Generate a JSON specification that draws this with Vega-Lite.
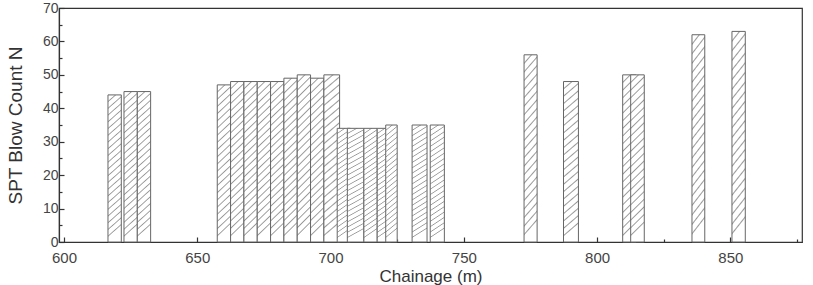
{
  "$schema": "https://vega.github.io/schema/vega-lite/v6.json",
  "autosize": "none",
  "width": 743,
  "height": 234,
  "padding": {"left": 59, "top": 8, "right": 11, "bottom": 43},
  "background": "white",
  "config": {
    "view": {"stroke": "#333", "strokeWidth": 1.2},
    "font": "Liberation Sans",
    "axis": {
      "domainColor": "#333",
      "domainWidth": 1.2,
      "tickColor": "#333",
      "tickWidth": 1.2,
      "labelColor": "#444",
      "titleColor": "#333",
      "labelFont": "Liberation Sans",
      "titleFont": "Liberation Sans",
      "labelFontSize": 15,
      "titleFontSize": 17,
      "titleFontWeight": "normal",
      "grid": false
    }
  },
  "data": {
    "values": [
      {"from": 616.5, "to": 621.5, "N": 44},
      {"from": 622.5, "to": 627.5, "N": 45},
      {"from": 627.5, "to": 632.5, "N": 45},
      {"from": 657.5, "to": 662.5, "N": 47},
      {"from": 662.5, "to": 667.5, "N": 48},
      {"from": 667.5, "to": 672.5, "N": 48},
      {"from": 672.5, "to": 677.5, "N": 48},
      {"from": 677.5, "to": 682.5, "N": 48},
      {"from": 682.5, "to": 687.5, "N": 49},
      {"from": 687.5, "to": 692.5, "N": 50},
      {"from": 692.5, "to": 697.5, "N": 49},
      {"from": 697.5, "to": 703.4, "N": 50},
      {"from": 702.5, "to": 707.4, "N": 34},
      {"from": 706.3, "to": 712.5, "N": 34},
      {"from": 712.5, "to": 717.5, "N": 34},
      {"from": 717.5, "to": 722.5, "N": 34},
      {"from": 720.7, "to": 725.0, "N": 35},
      {"from": 730.6, "to": 736.2, "N": 35},
      {"from": 737.4, "to": 742.7, "N": 35},
      {"from": 772.6, "to": 777.5, "N": 56},
      {"from": 787.4, "to": 793.0, "N": 48},
      {"from": 809.6, "to": 814.6, "N": 50},
      {"from": 812.6, "to": 817.7, "N": 50},
      {"from": 835.6, "to": 840.4, "N": 62},
      {"from": 850.6, "to": 855.6, "N": 63}
    ]
  },
  "mark": {
    "type": "bar",
    "orient": "vertical",
    "stroke": "#666",
    "strokeWidth": 1,
    "fill": {
      "gradient": "linear",
      "x1": 0, "y1": 0, "x2": 0.08, "y2": 1,
      "stops": [
        {"offset": 0.0, "color": "#fff"}, {"offset": 0.0375, "color": "#fff"},
        {"offset": 0.0455, "color": "#999"}, {"offset": 0.0535, "color": "#fff"}, {"offset": 0.0829, "color": "#fff"},
        {"offset": 0.0909, "color": "#999"}, {"offset": 0.0989, "color": "#fff"}, {"offset": 0.1284, "color": "#fff"},
        {"offset": 0.1364, "color": "#999"}, {"offset": 0.1444, "color": "#fff"}, {"offset": 0.1738, "color": "#fff"},
        {"offset": 0.1818, "color": "#999"}, {"offset": 0.1898, "color": "#fff"}, {"offset": 0.2193, "color": "#fff"},
        {"offset": 0.2273, "color": "#999"}, {"offset": 0.2353, "color": "#fff"}, {"offset": 0.2647, "color": "#fff"},
        {"offset": 0.2727, "color": "#999"}, {"offset": 0.2807, "color": "#fff"}, {"offset": 0.3102, "color": "#fff"},
        {"offset": 0.3182, "color": "#999"}, {"offset": 0.3262, "color": "#fff"}, {"offset": 0.3556, "color": "#fff"},
        {"offset": 0.3636, "color": "#999"}, {"offset": 0.3716, "color": "#fff"}, {"offset": 0.4011, "color": "#fff"},
        {"offset": 0.4091, "color": "#999"}, {"offset": 0.4171, "color": "#fff"}, {"offset": 0.4465, "color": "#fff"},
        {"offset": 0.4545, "color": "#999"}, {"offset": 0.4625, "color": "#fff"}, {"offset": 0.492, "color": "#fff"},
        {"offset": 0.5, "color": "#999"}, {"offset": 0.508, "color": "#fff"}, {"offset": 0.5375, "color": "#fff"},
        {"offset": 0.5455, "color": "#999"}, {"offset": 0.5535, "color": "#fff"}, {"offset": 0.5829, "color": "#fff"},
        {"offset": 0.5909, "color": "#999"}, {"offset": 0.5989, "color": "#fff"}, {"offset": 0.6284, "color": "#fff"},
        {"offset": 0.6364, "color": "#999"}, {"offset": 0.6444, "color": "#fff"}, {"offset": 0.6738, "color": "#fff"},
        {"offset": 0.6818, "color": "#999"}, {"offset": 0.6898, "color": "#fff"}, {"offset": 0.7193, "color": "#fff"},
        {"offset": 0.7273, "color": "#999"}, {"offset": 0.7353, "color": "#fff"}, {"offset": 0.7647, "color": "#fff"},
        {"offset": 0.7727, "color": "#999"}, {"offset": 0.7807, "color": "#fff"}, {"offset": 0.8102, "color": "#fff"},
        {"offset": 0.8182, "color": "#999"}, {"offset": 0.8262, "color": "#fff"}, {"offset": 0.8556, "color": "#fff"},
        {"offset": 0.8636, "color": "#999"}, {"offset": 0.8716, "color": "#fff"}, {"offset": 0.9011, "color": "#fff"},
        {"offset": 0.9091, "color": "#999"}, {"offset": 0.9171, "color": "#fff"}, {"offset": 0.9465, "color": "#fff"},
        {"offset": 0.9545, "color": "#999"}, {"offset": 0.9625, "color": "#fff"}, {"offset": 0.992, "color": "#fff"},
        {"offset": 1.0, "color": "#fff"}
      ]
    }
  },
  "encoding": {
    "x": {
      "field": "from",
      "type": "quantitative",
      "scale": {"domain": [600, 875], "nice": false, "zero": false},
      "axis": {
        "title": "Chainage (m)",
        "values": [600, 625, 650, 675, 700, 725, 750, 775, 800, 825, 850, 875],
        "labelExpr": "datum.value % 50 === 0 && datum.value < 875 ? datum.label : ''",
        "tickSize": {"condition": {"test": "datum.value % 50 === 0", "value": -5}, "value": -3},
        "labelPadding": 13,
        "titlePadding": 3
      }
    },
    "x2": {"field": "to"},
    "y": {
      "field": "N",
      "type": "quantitative",
      "scale": {"domain": [0, 70], "nice": false},
      "axis": {
        "title": "SPT Blow Count N",
        "titleFontSize": 19,
        "labelFontSize": 14,
        "values": [0, 5, 10, 15, 20, 25, 30, 35, 40, 45, 50, 55, 60, 65, 70],
        "labelExpr": "datum.value % 10 === 0 ? datum.label : ''",
        "tickSize": {"condition": {"test": "datum.value % 10 === 0", "value": -5}, "value": -3},
        "labelPadding": 6,
        "titlePadding": 17
      }
    },
    "y2": {"datum": 0}
  }
}
